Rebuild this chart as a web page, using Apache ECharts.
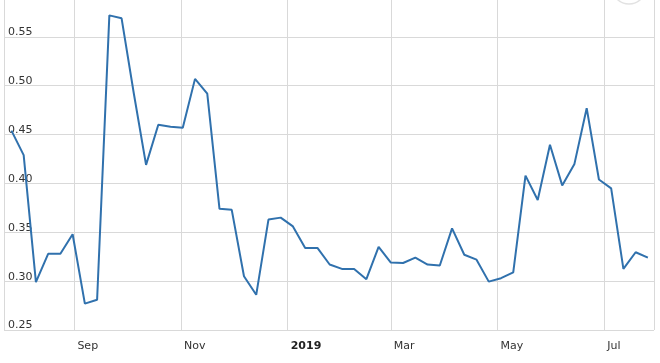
<!DOCTYPE html>
<html>
<head>
<meta charset="utf-8">
<style>
  html, body { margin: 0; padding: 0; background: #fff; }
  #chart { width: 660px; height: 363px; }
</style>
<script src="https://cdn.jsdelivr.net/npm/echarts@6/dist/echarts.min.js"></script>
</head>
<body>
<div id="chart"></div>
<script>
const dates = [
  '2018-07-27','2018-08-03','2018-08-10','2018-08-17','2018-08-24','2018-08-31',
  '2018-09-07','2018-09-14','2018-09-21','2018-09-28','2018-10-05','2018-10-12',
  '2018-10-19','2018-10-26','2018-11-02','2018-11-09','2018-11-16','2018-11-23',
  '2018-11-30','2018-12-07','2018-12-14','2018-12-21','2018-12-28','2019-01-04',
  '2019-01-11','2019-01-18','2019-01-25','2019-02-01','2019-02-08','2019-02-15',
  '2019-02-22','2019-03-01','2019-03-08','2019-03-15','2019-03-22','2019-03-29',
  '2019-04-05','2019-04-12','2019-04-19','2019-04-26','2019-05-03','2019-05-10',
  '2019-05-17','2019-05-24','2019-05-31','2019-06-07','2019-06-14','2019-06-21',
  '2019-06-28','2019-07-05','2019-07-12','2019-07-19','2019-07-26'
];
const values = [
  0.454, 0.429, 0.299, 0.328, 0.328, 0.348,
  0.277, 0.281, 0.572, 0.569, 0.492, 0.419,
  0.460, 0.458, 0.457, 0.507, 0.492, 0.374,
  0.373, 0.305, 0.286, 0.363, 0.365, 0.356,
  0.334, 0.334, 0.317, 0.3125, 0.3125, 0.302,
  0.335, 0.319, 0.3186, 0.324, 0.317, 0.316,
  0.354, 0.327, 0.322, 0.2995, 0.303, 0.309,
  0.408, 0.383, 0.4395, 0.398, 0.420, 0.477,
  0.404, 0.395, 0.3125, 0.3296, 0.324
];
const monthNames = ['Jan','Feb','Mar','Apr','May','Jun','Jul','Aug','Sep','Oct','Nov','Dec'];
const xMin = '2018-07-22 18:00';
const xMax = '2019-07-29 12:00';
const yMin = 0.25, yMax = 0.60, yStep = 0.05;

const seriesData = dates.map((d, i) => [d, values[i]]);

const chart = echarts.init(document.getElementById('chart'), null, { renderer: 'canvas' });
const gridColor = '#d9d9d9';
chart.setOption({
  animation: false,
  backgroundColor: '#ffffff',
  textStyle: { fontFamily: 'DejaVu Sans' },
  grid: { left: 4, right: 6, top: -12, bottom: 33, containLabel: false, outerBoundsMode: 'none' },
  xAxis: {
    type: 'time',
    min: xMin,
    max: xMax,
    splitNumber: 5,
    axisLine: { show: false },
    axisTick: { show: false },
    splitLine: { show: true, lineStyle: { color: gridColor, width: 1 } },
    axisLabel: {
      align: 'left',
      margin: 11,
      padding: [0, 0, 0, 3],
      fontSize: 11,
      color: '#333',
      fontFamily: 'DejaVu Sans',
      hideOverlap: false,
      formatter: function (value) {
        const d = new Date(value);
        if (d.getMonth() === 0) return '{b|' + d.getFullYear() + '}';
        return monthNames[d.getMonth()];
      },
      rich: { b: { fontWeight: 'bold', fontSize: 11, color: '#222', fontFamily: 'DejaVu Sans' } }
    }
  },
  yAxis: {
    type: 'value',
    min: yMin,
    max: yMax,
    interval: yStep,
    axisLine: { show: false },
    axisTick: { show: false },
    splitLine: { show: true, lineStyle: { color: gridColor, width: 1 } },
    axisLabel: {
      inside: true,
      margin: 4,
      align: 'left',
      verticalAlign: 'bottom',
      lineHeight: 9,
      fontSize: 11,
      color: '#333',
      fontFamily: 'DejaVu Sans',
      formatter: function (v) { return v.toFixed(2); }
    }
  },
  graphic: [{
    type: 'circle',
    shape: { cx: 629, cy: -13, r: 17 },
    style: { fill: 'none', stroke: '#e2e2e2', lineWidth: 1.5 },
    silent: true
  }],
  series: [{
    type: 'line',
    data: seriesData,
    showSymbol: false,
    symbol: 'none',
    lineStyle: { color: '#3071ad', width: 2 },
    itemStyle: { color: '#3071ad' }
  }]
});
</script>
</body>
</html>
